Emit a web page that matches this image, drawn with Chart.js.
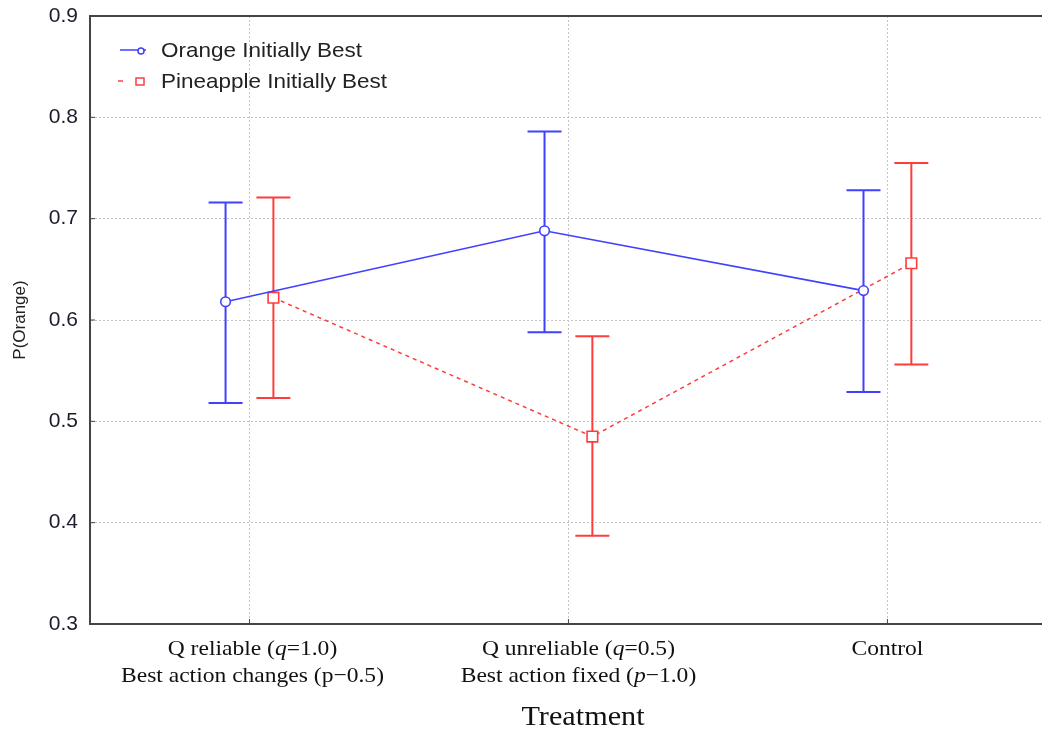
<!DOCTYPE html>
<html>
<head>
<meta charset="utf-8">
<script src="https://cdn.jsdelivr.net/npm/chart.js@4.4.0/dist/chart.umd.min.js"></script>
<style>
html, body { margin: 0; padding: 0; background: #fff; overflow: hidden; }
#wrap { width: 1056px; height: 734px; }
</style>
</head>
<body>
<div id="wrap"><canvas id="chart"></canvas></div>
<script>
// categories, italic parts marked with _x_
const categories = [
    ['Q reliable (_q_=1.0)', 'Best action changes (p\u22120.5)'],
    ['Q unreliable (_q_=0.5)', 'Best action fixed (_p_\u22121.0)'],
    ['Control']
];
const yTicks = [0.3, 0.4, 0.5, 0.6, 0.7, 0.8, 0.9];

const orangeMean = [0.618, 0.688, 0.629];
const orangeLow  = [0.518, 0.588, 0.529];
const orangeHigh = [0.716, 0.786, 0.728];

const pineMean = [0.622, 0.485, 0.656];
const pineLow  = [0.523, 0.387, 0.556];
const pineHigh = [0.721, 0.584, 0.755];

const shift = 0.075;  // side-by-side offset of the two series
const blue = 'rgb(64,64,255)';
const red = 'rgb(255,60,60)';
const sx = 1.07;      // text in the original is slightly wide
const labelNudge = [3, 10, 0];

const series = [
    { label: 'Orange Initially Best', mean: orangeMean, low: orangeLow, high: orangeHigh, color: blue, dx: -shift },
    { label: 'Pineapple Initially Best', mean: pineMean, low: pineLow, high: pineHigh, color: red, dx: shift }
];

function toPoints(s) {
    return s.mean.map((v, i) => ({ x: i + 1 + s.dx, y: v }));
}

function wideText(ctx, text, x, y) {
    ctx.save();
    ctx.translate(x, y);
    ctx.scale(sx, 1);
    ctx.fillText(text, 0, 0);
    ctx.restore();
}

function drawRich(ctx, text, cx, y, size) {
    const parts = text.split('_');
    const fonts = parts.map((p, i) => (i % 2 ? 'italic ' : '') + size + 'px "Liberation Serif"');
    const widths = parts.map((p, i) => { ctx.font = fonts[i]; return ctx.measureText(p).width * sx; });
    const total = widths.reduce((a, b) => a + b, 0);
    let x = cx - total / 2;
    parts.forEach((p, i) => {
        ctx.font = fonts[i];
        wideText(ctx, p, x, y);
        x += widths[i];
    });
}

const errorBars = {
    id: 'errorBars',
    beforeDatasetsDraw(chart) {
        const ctx = chart.ctx, xs = chart.scales.x, ys = chart.scales.y;
        ctx.save();
        series.forEach(s => {
            ctx.strokeStyle = s.color;
            ctx.lineWidth = 2;
            s.mean.forEach((m, i) => {
                const px = xs.getPixelForValue(i + 1 + s.dx);
                const lo = ys.getPixelForValue(s.low[i]);
                const hi = ys.getPixelForValue(s.high[i]);
                ctx.beginPath();
                ctx.moveTo(px, lo); ctx.lineTo(px, hi);
                ctx.moveTo(px - 17, lo); ctx.lineTo(px + 17, lo);
                ctx.moveTo(px - 17, hi); ctx.lineTo(px + 17, hi);
                ctx.stroke();
            });
        });
        ctx.restore();
    }
};

const extras = {
    id: 'extras',
    afterDraw(chart) {
        const ctx = chart.ctx, area = chart.chartArea, xs = chart.scales.x, ys = chart.scales.y;
        ctx.save();
        // top frame line and inward ticks
        ctx.strokeStyle = '#444';
        ctx.lineWidth = 2;
        ctx.beginPath();
        ctx.moveTo(area.left, area.top);
        ctx.lineTo(area.right, area.top);
        ctx.stroke();
        ctx.lineWidth = 1;
        ctx.beginPath();
        yTicks.forEach(v => {
            const py = ys.getPixelForValue(v);
            ctx.moveTo(area.left, py); ctx.lineTo(area.left + 5, py);
        });
        categories.forEach((c, i) => {
            const px = xs.getPixelForValue(i + 1);
            ctx.moveTo(px, area.bottom); ctx.lineTo(px, area.bottom - 5);
        });
        ctx.stroke();

        // category labels
        ctx.fillStyle = '#111';
        ctx.textBaseline = 'alphabetic';
        ctx.textAlign = 'left';
        categories.forEach((lines, i) => {
            const px = xs.getPixelForValue(i + 1) + labelNudge[i];
            lines.forEach((t, j) => drawRich(ctx, t, px, area.bottom + 31 + j * 27, 22));
        });
        ctx.font = '27px "Liberation Serif"';
        const tw = ctx.measureText('Treatment').width * 1.12;
        ctx.save();
        ctx.translate(583 - tw / 2, 725);
        ctx.scale(1.12, 1);
        ctx.fillText('Treatment', 0, 0);
        ctx.restore();

        // legend
        ctx.textBaseline = 'middle';
        ctx.font = '21px "Liberation Sans"';
        series.forEach((s, k) => {
            const y = 50 + k * 31;
            ctx.strokeStyle = s.color;
            ctx.lineWidth = 1.5;
            ctx.beginPath();
            if (k === 0) {
                ctx.moveTo(120, y); ctx.lineTo(146, y);
            } else {
                ctx.moveTo(118, y); ctx.lineTo(123, y);
            }
            ctx.stroke();
            ctx.fillStyle = '#fff';
            ctx.beginPath();
            if (k === 0) {
                ctx.arc(141, y + 1, 3, 0, Math.PI * 2);
            } else {
                ctx.rect(136, y - 3, 8, 7);
            }
            ctx.fill();
            ctx.stroke();
            ctx.fillStyle = '#222';
            wideText(ctx, s.label, 161, y + 1);
        });
        ctx.restore();
    }
};

const ctx = document.getElementById('chart').getContext('2d');
const myChart = new Chart(ctx, {
    type: 'line',
    data: {
        datasets: [
            {
                label: series[0].label,
                data: toPoints(series[0]),
                borderColor: blue,
                borderWidth: 1.6,
                pointStyle: 'circle',
                pointRadius: 4.8,
                pointBorderWidth: 1.6,
                pointBackgroundColor: '#fff',
                pointBorderColor: blue
            },
            {
                label: series[1].label,
                data: toPoints(series[1]),
                borderColor: red,
                borderWidth: 1.5,
                borderDash: [4, 4],
                pointStyle: 'rect',
                pointRadius: 7.5,
                pointBorderWidth: 1.6,
                pointBackgroundColor: '#fff',
                pointBorderColor: red
            }
        ]
    },
    options: {
        responsive: true,
        maintainAspectRatio: false,
        animation: false,
        layout: { padding: { top: 16, right: 0, left: 0, bottom: 0 } },
        plugins: {
            legend: { display: false },
            tooltip: { enabled: false }
        },
        scales: {
            x: {
                type: 'linear',
                min: 0.5,
                max: 3.5,
                afterBuildTicks(scale) { scale.ticks = categories.map((c, i) => ({ value: i + 1 })); },
                afterFit(scale) { scale.height = 110; scale.paddingLeft = 0; scale.paddingRight = 0; },
                ticks: { display: false },
                grid: { color: '#c4c4c4', lineWidth: 1, drawTicks: false },
                border: { color: '#444', width: 2, dash: [2, 2] }
            },
            y: {
                min: 0.3,
                max: 0.9,
                afterBuildTicks(scale) { scale.ticks = yTicks.map(v => ({ value: v })); },
                afterFit(scale) { scale.width = 90; scale.paddingTop = 0; scale.paddingBottom = 0; },
                ticks: {
                    padding: 12,
                    color: '#1c1c2c',
                    font: { family: 'Liberation Sans', size: 21 },
                    callback: v => v.toFixed(1)
                },
                grid: { color: '#c4c4c4', lineWidth: 1, drawTicks: false },
                border: { color: '#444', width: 2, dash: [2, 2] },
                title: {
                    display: true,
                    text: 'P(Orange)',
                    color: '#222',
                    font: { family: 'Liberation Sans', size: 17 },
                    padding: { top: 10, bottom: 0 }
                }
            }
        }
    },
    plugins: [errorBars, extras]
});
</script>
</body>
</html>
